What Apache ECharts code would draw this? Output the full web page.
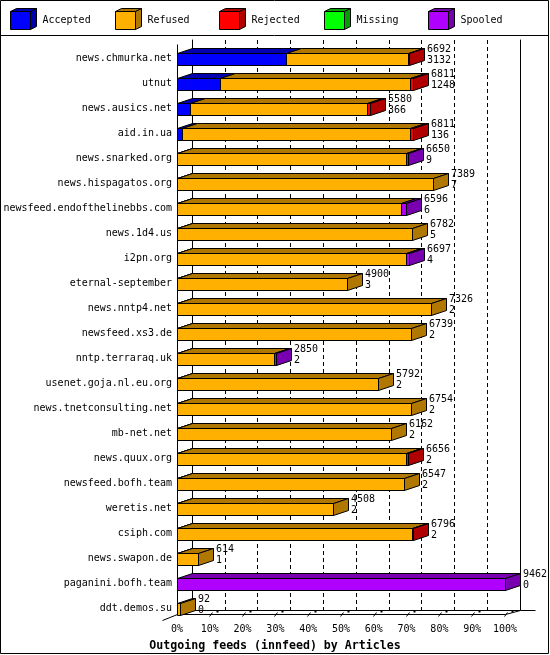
<!DOCTYPE html>
<html><head><meta charset="utf-8">
<script src="https://cdn.jsdelivr.net/npm/echarts@6/dist/echarts.min.js"></script>
<style>html,body{margin:0;padding:0;background:#fff}#c{width:550px;height:655px}</style>
</head><body><div id="c"></div>
<script>
const categories = ['news.chmurka.net','utnut','news.ausics.net','aid.in.ua','news.snarked.org','news.hispagatos.org','newsfeed.endofthelinebbs.com','news.1d4.us','i2pn.org','eternal-september','news.nntp4.net','newsfeed.xs3.de','nntp.terraraq.uk','usenet.goja.nl.eu.org','news.tnetconsulting.net','mb-net.net','news.quux.org','newsfeed.bofh.team','weretis.net','csiph.com','news.swapon.de','paganini.bofh.team','ddt.demos.su'];
const totals   = [6692,6811,5580,6811,6650,7389,6596,6782,6697,4900,7326,6739,2850,5792,6754,6162,6656,6547,4508,6796,614,9462,92];
const accepted = [3132,1248,366,136,9,7,6,5,4,3,2,2,2,2,2,2,2,2,2,2,1,0,0];
const refused  = [3530,5473,5124,6585,6591,7382,6470,6777,6603,4897,7324,6737,2808,5790,6752,6160,6614,6545,4506,6764,613,0,92];
const rejected = [30,90,90,90,0,0,0,0,0,0,0,0,0,0,0,0,40,0,0,30,0,0,0];
const missing  = [0,0,0,0,0,0,0,0,0,0,0,0,0,0,0,0,0,0,0,0,0,0,0];
const spooled  = [0,0,0,0,50,0,120,0,90,0,0,0,40,0,0,0,0,0,0,0,0,9462,0];
const seriesNames = ['Accepted','Refused','Rejected','Missing','Spooled'];
const frontColors = ['#0000ff','#ffb000','#ff0000','#00ff00','#b000ff'];
const darkColors  = ['#0000b0','#b07800','#b00000','#00a000','#7800b0'];
const chartTitle = 'Outgoing feeds (innfeed) by Articles';
const FONT = '"DejaVu Sans Mono", monospace';

const segValues = [accepted, refused, rejected, missing, spooled];
const maxTotal = Math.max.apply(null, totals);
const DX = 15, DY = 5, H = 12;

// build stacked segments in percent of max
const segData = seriesNames.map(() => []);
const labelData = [];
categories.forEach((c, r) => {
  let cum = 0, lastK = -1;
  segValues.forEach((arr, k) => { if (arr[r] > 0) lastK = k; });
  segValues.forEach((arr, k) => {
    const v = arr[r];
    if (v > 0) {
      const s = cum / maxTotal * 100, e = (cum + v) / maxTotal * 100;
      segData[k].push([s, e, r, k === lastK ? 1 : 0]);
      cum += v;
    }
  });
  labelData.push([totals[r] / maxTotal * 100, r, totals[r], accepted[r]]);
});

const px = v => Math.round(v) + 0.5;

function segRender(k) {
  return function (params, api) {
    const s = api.value(0), e = api.value(1), r = api.value(2), last = api.value(3);
    const p0 = api.coord([s, r]), p1 = api.coord([e, r]);
    const x0 = px(p0[0]), x1 = px(p1[0]);
    const yT = px(p0[1] - H / 2), yB = yT + H;
    const ch = [
      { type: 'polygon', shape: { points: [[x0, yT], [x1, yT], [x1 + DX, yT - DY], [x0 + DX, yT - DY]] },
        style: { fill: darkColors[k], stroke: '#000', lineWidth: 1 } },
      { type: 'rect', shape: { x: x0, y: yT, width: x1 - x0, height: H },
        style: { fill: frontColors[k], stroke: '#000', lineWidth: 1 } }
    ];
    if (last) ch.push({ type: 'polygon', shape: { points: [[x1, yT], [x1 + DX, yT - DY], [x1 + DX, yB - DY], [x1, yB]] },
        style: { fill: darkColors[k], stroke: '#000', lineWidth: 1 } });
    return { type: 'group', children: ch };
  };
}

const series = seriesNames.map((n, k) => ({
  name: n, type: 'custom', xAxisIndex: 0, yAxisIndex: 0,
  data: segData[k], encode: { x: [0, 1], y: 2 }, renderItem: segRender(k), clip: false, z: 3
}));

series.push({
  type: 'custom', name: 'labels', xAxisIndex: 0, yAxisIndex: 0, data: labelData, encode: { x: 0, y: 1 }, clip: false, z: 4,
  renderItem: function (params, api) {
    const p = api.coord([api.value(0), api.value(1)]);
    return { type: 'text', x: Math.round(p[0]) + 18, y: Math.round(p[1]) - 4,
      style: { text: api.value(2) + '\n' + api.value(3), fill: '#000', font: '10px ' + FONT,
        lineHeight: 11, verticalAlign: 'middle', align: 'left' } };
  }
});

series.push({
  type: 'custom', name: 'frame', xAxisIndex: 0, yAxisIndex: 0, data: [[0, 0]], encode: { x: 0, y: 1 }, clip: false, z: 2,
  renderItem: function (params, api) {
    const n = categories.length;
    const xL = px(api.coord([0, 0])[0]), xR = px(api.coord([100, 0])[0]);
    const yTop = px(api.coord([0, 0])[1] - H / 2 - 9);
    const yF = px(api.coord([0, n - 1])[1] + H / 2 - 1);
    const ls = { stroke: '#000', lineWidth: 1 };
    const ch = [
      { type: 'line', shape: { x1: xL, y1: yTop, x2: xL, y2: yF }, style: ls },
      { type: 'line', shape: { x1: xL, y1: yF, x2: xR, y2: yF }, style: ls },
      { type: 'line', shape: { x1: xL - 15, y1: yF + 6, x2: xL, y2: yF }, style: ls },
      { type: 'line', shape: { x1: xR, y1: yF, x2: xR + DX, y2: yF - DY + 1 }, style: ls },
      { type: 'line', shape: { x1: xR + DX, y1: yF - DY + 1, x2: xR + DX + 15, y2: yF - DY + 1 }, style: ls }
    ];
    for (let t = 10; t <= 100; t += 10) {
      const x = px(api.coord([t, 0])[0]);
      ch.push({ type: 'line', shape: { x1: x - 1, y1: yF + 2, x2: x + 2, y2: yF - 2 }, style: ls });
      ch.push({ type: 'rect', shape: { x: x + 6, y: yF - 4, width: 2, height: 2 }, style: { fill: '#000' } });
    }
    return { type: 'group', children: ch };
  }
});

// legend graphic
const legendChildren = [];
seriesNames.forEach((n, k) => {
  const x = 10.5 + Math.round(k * 104.5), y = 11.5, w = 20, h = 18, dx = 6, dy = 3;
  legendChildren.push(
    { type: 'polygon', shape: { points: [[x, y], [x + w, y], [x + w + dx, y - dy], [x + dx, y - dy]] }, style: { fill: darkColors[k], stroke: '#000' } },
    { type: 'polygon', shape: { points: [[x + w, y], [x + w + dx, y - dy], [x + w + dx, y + h - dy], [x + w, y + h]] }, style: { fill: darkColors[k], stroke: '#000' } },
    { type: 'rect', shape: { x: x, y: y, width: w, height: h }, style: { fill: frontColors[k], stroke: '#000' } },
    { type: 'text', x: x + 32, y: 20, style: { text: n, fill: '#000', font: '10px ' + FONT, verticalAlign: 'middle' } }
  );
});

const chart = echarts.init(document.getElementById('c'), null, { renderer: 'canvas' });
chart.setOption({
  animation: false,
  backgroundColor: '#fff',
  title: { text: chartTitle, left: 'center', top: 635,
    textStyle: { fontFamily: FONT, fontWeight: 'bold', fontSize: 11.6, color: '#000' } },
  grid: [
    { left: 177, width: 328, top: 46, height: 575 },
    { left: 192, width: 328, top: 40, height: 570 }
  ],
  xAxis: [
    { type: 'value', gridIndex: 0, min: 0, max: 100, interval: 10,
      axisLine: { show: false }, axisTick: { show: false }, splitLine: { show: false },
      axisLabel: { formatter: '{value}%', margin: 3, color: '#000', fontFamily: FONT, fontSize: 10 } },
    { type: 'value', gridIndex: 1, min: 0, max: 100, interval: 10,
      axisLine: { show: true, lineStyle: { color: '#000', width: 1 } }, axisTick: { show: false },
      axisLabel: { show: false },
      splitLine: { show: true, lineStyle: { color: '#000', width: 1, type: [4, 3] } } }
  ],
  yAxis: [
    { type: 'category', gridIndex: 0, data: categories, inverse: true,
      axisLine: { show: false }, axisTick: { show: false }, splitLine: { show: false },
      axisLabel: { margin: 5, color: '#000', fontFamily: FONT, fontSize: 10 } },
    { type: 'value', gridIndex: 1, min: 0, max: 1, position: 'left',
      axisLine: { show: true, lineStyle: { color: '#000' } }, axisTick: { show: false }, axisLabel: { show: false }, splitLine: { show: false } },
    { type: 'value', gridIndex: 1, min: 0, max: 1, position: 'right',
      axisLine: { show: true, lineStyle: { color: '#000' } }, axisTick: { show: false }, axisLabel: { show: false }, splitLine: { show: false } }
  ],
  graphic: [
    { type: 'rect', shape: { x: 0.5, y: 0.5, width: 548, height: 653 }, style: { fill: 'none', stroke: '#000' }, z: 100 },
    { type: 'line', shape: { x1: 0, y1: 35.5, x2: 549, y2: 35.5 }, style: { stroke: '#000' }, z: 100 },
    { type: 'group', children: legendChildren, z: 100 }
  ],
  series: series
});
</script></body></html>
